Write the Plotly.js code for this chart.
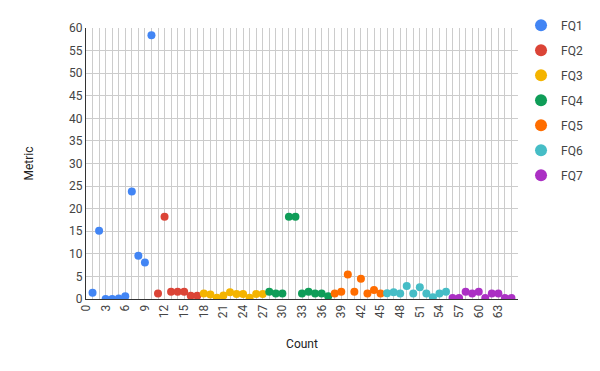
<!DOCTYPE html>
<html>
<head>
<meta charset="utf-8">
<script src="https://cdn.plot.ly/plotly-3.0.1.min.js"></script>
<style>body{margin:0;background:#fff;}</style>
</head>
<body>
<div id="chart" style="width:600px;height:371px;"></div>
<script>
var names = ['FQ1', 'FQ2', 'FQ3', 'FQ4', 'FQ5', 'FQ6', 'FQ7'];
var colors = ['#4285F4', '#DB4437', '#F4B400', '#0F9D58', '#FF6D00', '#46BDC6', '#AB30C4'];

var fq1X = [1, 2, 3, 4, 5, 6, 7, 8, 9, 10];
var fq1Y = [1.4, 15.1, 0, 0, 0.1, 0.6, 23.8, 9.6, 8.1, 58.4];
var fq2X = [11, 12, 13, 14, 15, 16, 17];
var fq2Y = [1.2, 18.2, 1.6, 1.6, 1.6, 0.7, 0.7];
var fq3X = [18, 19, 20, 21, 22, 23, 24, 25, 26, 27];
var fq3Y = [1.2, 1.0, 0.3, 0.8, 1.5, 1.1, 1.1, 0.3, 1.1, 1.1];
var fq4X = [28, 29, 30, 31, 32, 33, 34, 35, 36, 37];
var fq4Y = [1.6, 1.2, 1.2, 18.2, 18.2, 1.2, 1.6, 1.2, 1.2, 0.6];
var fq5X = [38, 39, 40, 41, 42, 43, 44, 45];
var fq5Y = [1.2, 1.6, 5.4, 1.6, 4.5, 1.2, 2.0, 1.2];
var fq6X = [46, 47, 48, 49, 50, 51, 52, 53, 54, 55];
var fq6Y = [1.3, 1.5, 1.2, 2.9, 1.2, 2.6, 1.2, 0.4, 1.2, 1.6];
var fq7X = [56, 57, 58, 59, 60, 61, 62, 63, 64, 65];
var fq7Y = [0.2, 0.2, 1.6, 1.2, 1.6, 0.2, 1.2, 1.2, 0.2, 0.2];

var xTicks = [0, 3, 6, 9, 12, 15, 18, 21, 24, 27, 30, 33, 36, 39, 42, 45, 48, 51, 54, 57, 60, 63];
var yTicks = [0, 5, 10, 15, 20, 25, 30, 35, 40, 45, 50, 55, 60];

var xs = [fq1X, fq2X, fq3X, fq4X, fq5X, fq6X, fq7X];
var ys = [fq1Y, fq2Y, fq3Y, fq4Y, fq5Y, fq6Y, fq7Y];

var data = [];
for (var i = 0; i < names.length; i++) {
  data.push({
    x: xs[i],
    y: ys[i],
    name: names[i],
    legendgroup: names[i],
    type: 'scatter',
    mode: 'markers',
    marker: {color: colors[i], size: 8},
    cliponaxis: true
  });
}

var layout = {
  width: 600,
  height: 371,
  margin: {l: 86, r: 82, t: 27, b: 72},
  font: {family: 'Roboto, Arial, sans-serif', size: 12, color: '#444'},
  paper_bgcolor: '#fff',
  plot_bgcolor: '#fff',
  showlegend: true,
  legend: {
    x: 1.007, y: 1.06, xanchor: 'left', yanchor: 'top',
    tracegroupgap: 6,
    itemsizing: 'constant',
    font: {size: 12, color: '#444'}
  },
  xaxis: {
    range: [0, 66],
    tickvals: xTicks,
    tickangle: -90,
    showgrid: true,
    gridcolor: '#cccccc',
    minor: {dtick: 1, tick0: 0, showgrid: true, gridcolor: '#cccccc', gridwidth: 1},
    zeroline: false,
    showline: true,
    linecolor: '#333',
    linewidth: 1,
    ticks: '',
    title: {text: 'Count', font: {size: 12, color: '#222'}, standoff: 22},
    tickfont: {size: 12, color: '#444'}
  },
  yaxis: {
    range: [0, 60],
    tickvals: yTicks,
    showgrid: true,
    gridcolor: '#cccccc',
    zeroline: false,
    showline: true,
    linecolor: '#333',
    linewidth: 1,
    ticks: '',
    title: {text: 'Metric', font: {size: 12, color: '#222'}, standoff: 32},
    tickfont: {size: 12, color: '#444'}
  }
};

Plotly.newPlot('chart', data, layout, {displayModeBar: false});
</script>
</body>
</html>
